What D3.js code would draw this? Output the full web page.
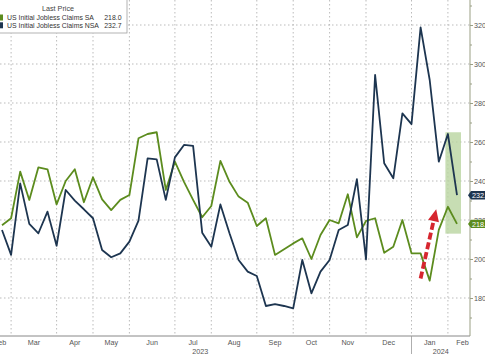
<!DOCTYPE html>
<html>
<head>
<meta charset="utf-8">
<script src="https://cdn.jsdelivr.net/npm/d3@7"></script>
<style>
  body { margin: 0; background: #fff; }
  svg { display: block; font-family: "Liberation Sans", Arial, sans-serif; }
</style>
</head>
<body>
<svg id="chart" width="485" height="354"></svg>
<script>
// DATA (weekly, week ending Saturday, thousands)
const firstWeek = "2023-02-18",
  lastWeek = "2024-02-03";

const claimsSA = [
  217.3, 220.9, 244.8, 230.3, 247.0, 246.0, 228.0, 240.0, 246.0, 229.1, 241.9, 230.6, 225.1, 230.3,
  232.8, 261.9, 264.1, 265.0, 235.4, 249.9, 239.6, 230.3, 221.4, 227.2, 250.3, 239.6,
  232.0, 228.9, 216.9, 220.9, 202.1, 205.0, 208.0, 210.6, 200.0, 212.3, 220.0, 218.3,
  233.2, 211.1, 219.5, 220.9, 203.2, 206.3, 220.0, 202.9, 202.9, 188.9, 214.9, 226.8, 218.0
];

const claimsNSA = [
  214.9, 202.1, 238.8, 218.0, 213.2, 224.3, 206.8, 235.4, 229.9, 225.5, 220.9, 204.6, 200.9, 202.9,
  208.9, 219.7, 251.6, 251.1, 230.3, 252.1, 258.5, 258.0, 213.5, 206.3, 228.0, 213.2,
  199.5, 193.5, 191.3, 175.9, 176.8, 175.9, 174.7, 199.5, 182.4, 193.5, 199.5, 214.9,
  217.4, 240.9, 199.8, 294.4, 249.1, 241.4, 274.7, 269.2, 318.8, 291.8, 249.9, 264.1, 232.7
];

// month gridlines sit on the week whose claims are the first released in that month
const monthGridWeeks = [
  "2023-02-25", "2023-04-01", "2023-04-29", "2023-05-27", "2023-07-01", "2023-07-29",
  "2023-09-02", "2023-09-30", "2023-10-28", "2023-11-25", "2023-12-30", "2024-01-27"
];
const monthLabels = ["Feb", "Mar", "Apr", "May", "Jun", "Jul", "Aug", "Sep", "Oct", "Nov", "Dec", "Jan", "Feb"];
const yearLabels = ["2023", "2024"];
const yTicks = [180, 200, 220, 240, 260, 280, 300, 320];
const yMinorTicks = [170, 190, 210, 230, 250, 270, 290, 310, 330];

const seriesNames = ["US Initial Jobless Claims SA", "US Initial Jobless Claims NSA"];
const lastValues = [218.0, 232.7];

// annotations
const highlight = { from: "2024-01-27", to: "2024-02-03", lo: 213, hi: 265 };
const arrow = { from: ["2024-01-06", 190], to: ["2024-01-18", 225.5] };

// CANVAS SETUP
const svg = d3.select("#chart");
const plotLeft = -11,
  plotRight = 470,
  plotTop = 0,
  plotBottom = 336;

const colors = { sa: "#5c8c1e", nsa: "#1d3550", grid: "#a9a9a9", axis: "#9a9f84", text: "#555" };

const parse = d3.utcParse("%Y-%m-%d");
const weeks = d3.utcSaturday.range(parse(firstWeek), d3.utcDay.offset(parse(lastWeek), 1));

const x = d3.scaleUtc().domain([parse(firstWeek), parse(lastWeek)]).range([2, 457]);
const y = d3.scaleLinear().domain([180, 320]).range([298, 25]);

svg.append("defs").append("clipPath").attr("id", "plotClip")
  .append("rect")
  .attr("x", plotLeft).attr("y", plotTop)
  .attr("width", plotRight - plotLeft).attr("height", plotBottom - plotTop);

// GRID
const grid = svg.append("g").attr("class", "grid");
grid.selectAll("line.h")
  .data(yTicks)
  .join("line")
  .attr("class", "h")
  .attr("x1", 0).attr("x2", plotRight)
  .attr("y1", (d) => y(d)).attr("y2", (d) => y(d))
  .attr("stroke", colors.grid).attr("stroke-width", 0.8)
  .attr("stroke-dasharray", "1.5,2.5");

const gridX = monthGridWeeks.map((d) => x(parse(d)));
grid.selectAll("line.v")
  .data(gridX)
  .join("line")
  .attr("class", "v")
  .attr("x1", (d) => d).attr("x2", (d) => d)
  .attr("y1", plotTop).attr("y2", plotBottom)
  .attr("stroke", colors.grid).attr("stroke-width", 0.8)
  .attr("stroke-dasharray", "1.5,2.5");

// HIGHLIGHT BOX
svg.append("rect")
  .attr("x", x(parse(highlight.from)) - 2.5)
  .attr("y", y(highlight.hi))
  .attr("width", x(parse(highlight.to)) - x(parse(highlight.from)) + 6.5)
  .attr("height", y(highlight.lo) - y(highlight.hi))
  .attr("fill", "#b9d4a0")
  .attr("opacity", 0.8);

// LINES
const lineGen = d3.line()
  .x((d, i) => x(weeks[i]))
  .y((d) => y(d));

const lines = svg.append("g").attr("clip-path", "url(#plotClip)");
lines.append("path")
  .datum(claimsSA)
  .attr("d", lineGen)
  .attr("fill", "none")
  .attr("stroke", colors.sa)
  .attr("stroke-width", 1.8)
  .attr("stroke-linejoin", "round");
lines.append("path")
  .datum(claimsNSA)
  .attr("d", lineGen)
  .attr("fill", "none")
  .attr("stroke", colors.nsa)
  .attr("stroke-width", 1.8)
  .attr("stroke-linejoin", "round");

// ARROW
const ax0 = x(parse(arrow.from[0])), ay0 = y(arrow.from[1]),
  ax1 = x(parse(arrow.to[0])), ay1 = y(arrow.to[1]);
const ang = Math.atan2(ay1 - ay0, ax1 - ax0),
  headLen = 12,
  headHalf = 5.5;
const bx = ax1 - headLen * Math.cos(ang),
  by = ay1 - headLen * Math.sin(ang);
svg.append("line")
  .attr("x1", ax0).attr("y1", ay0)
  .attr("x2", bx).attr("y2", by)
  .attr("stroke", "#d6262f")
  .attr("stroke-width", 3.8)
  .attr("stroke-dasharray", "7,3");
svg.append("path")
  .attr("d", `M${ax1},${ay1}L${bx + headHalf * Math.sin(ang)},${by - headHalf * Math.cos(ang)}L${bx - headHalf * Math.sin(ang)},${by + headHalf * Math.cos(ang)}Z`)
  .attr("fill", "#d6262f");

// X AXIS
svg.append("line")
  .attr("x1", 0).attr("x2", plotRight)
  .attr("y1", plotBottom).attr("y2", plotBottom)
  .attr("stroke", "#888").attr("stroke-width", 1);

const bounds = [plotLeft, ...gridX, plotRight + 7];
svg.append("g")
  .selectAll("text")
  .data(monthLabels)
  .join("text")
  .attr("x", (d, i) => (bounds[i] + bounds[i + 1]) / 2)
  .attr("y", 345)
  .attr("text-anchor", "middle")
  .attr("font-size", "7.2px")
  .attr("fill", colors.text)
  .text((d) => d);

const yearSplit = x(parse(monthGridWeeks[10]));
svg.append("line")
  .attr("x1", yearSplit).attr("x2", yearSplit)
  .attr("y1", plotBottom).attr("y2", 354)
  .attr("stroke", "#999").attr("stroke-width", 0.8);
svg.append("g")
  .selectAll("text")
  .data(yearLabels)
  .join("text")
  .attr("x", (d, i) => (i == 0 ? (plotLeft + yearSplit) / 2 : (yearSplit + plotRight) / 2))
  .attr("y", 353.5)
  .attr("text-anchor", "middle")
  .attr("font-size", "7.2px")
  .attr("fill", colors.text)
  .text((d) => d);

// Y AXIS (right)
svg.append("line")
  .attr("x1", plotRight).attr("x2", plotRight)
  .attr("y1", 0).attr("y2", plotBottom)
  .attr("stroke", colors.axis).attr("stroke-width", 1);

const yAxis = svg.append("g")
  .attr("transform", `translate(${plotRight},0)`)
  .call(d3.axisRight(y).tickValues(yTicks).tickSize(3).tickPadding(1).tickFormat(d3.format("d")));
yAxis.select(".domain").remove();
yAxis.selectAll("line").attr("stroke", colors.axis);
yAxis.selectAll("text")
  .attr("font-family", "Liberation Sans, Arial, sans-serif")
  .attr("font-size", "7.2px")
  .attr("fill", colors.text);

const yMinor = svg.append("g")
  .attr("transform", `translate(${plotRight},0)`)
  .call(d3.axisRight(y).tickValues(yMinorTicks).tickSize(2).tickFormat(""));
yMinor.select(".domain").remove();
yMinor.selectAll("line").attr("stroke", colors.axis);

// LAST VALUE TAGS
const tagColors = [colors.sa, colors.nsa];
const tags = svg.append("g")
  .selectAll("g")
  .data(lastValues)
  .join("g")
  .attr("transform", (d) => `translate(468,${y(d)})`);
tags.append("path")
  .attr("d", "M0,0L3,-4.2L30,-4.2L30,4.2L3,4.2Z")
  .attr("fill", (d, i) => tagColors[i]);
tags.append("text")
  .attr("x", 4)
  .attr("y", 2.6)
  .attr("font-size", "7.2px")
  .attr("fill", "#fff")
  .text((d) => d.toFixed(1));

// LEGEND
const legend = svg.append("g");
legend.append("rect")
  .attr("x", -6).attr("y", -6)
  .attr("width", 133).attr("height", 39)
  .attr("fill", "#fff")
  .attr("stroke", "#a0a0a0")
  .attr("stroke-width", 0.8);
legend.append("text")
  .attr("x", 58).attr("y", 11)
  .attr("text-anchor", "middle")
  .attr("font-size", "7.2px")
  .attr("fill", "#444")
  .text("Last Price");

const rows = legend.selectAll("g.row")
  .data(seriesNames)
  .join("g")
  .attr("class", "row")
  .attr("transform", (d, i) => `translate(0,${17.5 + i * 7.8})`);
rows.append("rect")
  .attr("x", -4).attr("y", -3)
  .attr("width", 7).attr("height", 6)
  .attr("fill", (d, i) => tagColors[i]);
rows.append("text")
  .attr("x", 7).attr("y", 2.5)
  .attr("font-size", "6.9px")
  .attr("fill", "#333")
  .text((d) => d);
rows.append("text")
  .attr("x", 121.5).attr("y", 2.5)
  .attr("text-anchor", "end")
  .attr("font-size", "6.9px")
  .attr("fill", "#333")
  .text((d, i) => lastValues[i].toFixed(1));
</script>
</body>
</html>
